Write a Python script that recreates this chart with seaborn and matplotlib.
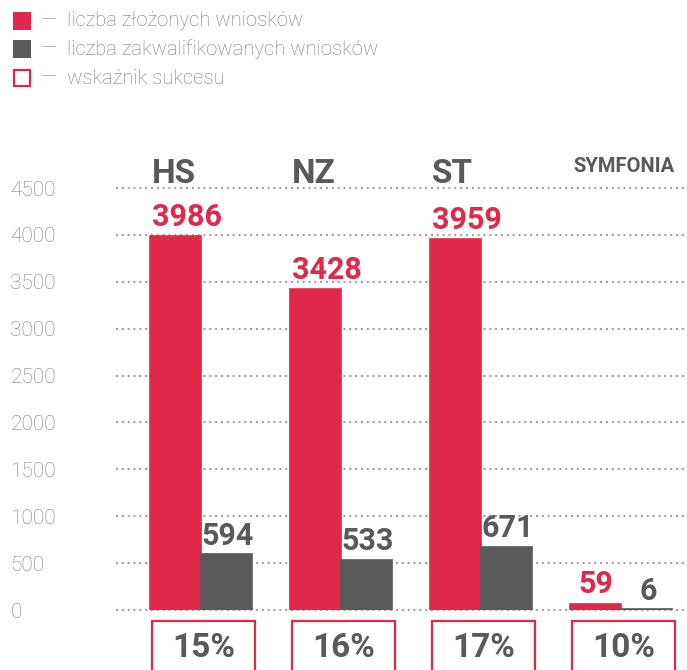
import matplotlib
matplotlib.use("Agg")
import matplotlib.pyplot as plt
from matplotlib.patches import Rectangle
import seaborn as sns
import pandas as pd

categories = ["HS", "NZ", "ST", "SYMFONIA"]
submitted = [3986, 3428, 3959, 59]
qualified = [594, 533, 671, 6]
success = ["15%", "16%", "17%", "10%"]
series_names = ["liczba złożonych wniosków", "liczba zakwalifikowanych wniosków"]
legend_labels = ["liczba złożonych wniosków", "liczba zakwalifikowanych wniosków", "wskaźnik sukcesu"]
yticks = [0, 500, 1000, 1500, 2000, 2500, 3000, 3500, 4000, 4500]

RED = "#E0294A"
GRAY = "#58595B"
TICK = "#7D7D7D"
GRID = "#9A9A9A"

sns.set_theme(style="white")
plt.rcParams["font.family"] = ["Roboto", "DejaVu Sans"]

df = pd.DataFrame({
    "cat": categories * 2,
    "series": [series_names[0]] * len(categories) + [series_names[1]] * len(categories),
    "value": submitted + qualified,
})

W, H = 687, 670
fig = plt.figure(figsize=(W / 100, H / 100), dpi=100)
ax = fig.add_axes([116 / W, 60 / H, 571 / W, 422 / H])

sns.barplot(data=df, x="cat", y="value", hue="series", order=categories,
            hue_order=series_names, palette=[RED, GRAY], width=0.73,
            dodge=True, legend=False, ax=ax, saturation=1, zorder=2,
            edgecolor="none", linewidth=0)

ax.set_ylim(0, 4500)
ax.set_xlim(-0.607, 3.471)
for s in ax.spines.values():
    s.set_visible(False)
ax.set_xlabel("")
ax.set_ylabel("")
ax.set_xticks([])
ax.set_yticks(yticks)
ax.set_yticklabels([str(t) for t in yticks])
ax.tick_params(axis="y", length=0, pad=76, labelsize=15, labelcolor=TICK)
for lab in ax.get_yticklabels():
    lab.set_horizontalalignment("left")
    lab.set_fontweight("light")

for t in yticks:
    ax.axhline(t, color=GRID, linestyle=(0, (1, 2)), linewidth=1.4, zorder=0.5, clip_on=False)

red_bars = ax.containers[0]
gray_bars = ax.containers[1]
for cont in (red_bars, gray_bars):
    for bar in cont:
        bar.set_edgecolor(bar.get_facecolor())
        bar.set_linewidth(1.2)

for bar, v in zip(red_bars, submitted):
    if len(str(v)) >= 4:
        ax.annotate(str(v), xy=(bar.get_x(), bar.get_height()), xytext=(1.5, 7),
                    textcoords="offset points", ha="left", va="baseline",
                    fontsize=22, fontweight="bold", color=RED)
    else:
        ax.annotate(str(v), xy=(bar.get_x() + bar.get_width() / 2, bar.get_height()),
                    xytext=(0, 8.5), textcoords="offset points", ha="center", va="baseline",
                    fontsize=22, fontweight="bold", color=RED)

for bar, v in zip(gray_bars, qualified):
    ax.annotate(str(v), xy=(bar.get_x() + bar.get_width() / 2, bar.get_height()),
                xytext=(1, 7), textcoords="offset points", ha="center", va="baseline",
                fontsize=22, fontweight="bold", color=GRAY)

for rb, gb, cat in zip(red_bars, gray_bars, categories):
    if len(cat) > 2:
        ax.annotate(cat, xy=(gb.get_x() + gb.get_width(), 4500), xytext=(1.5, 11.5),
                    textcoords="offset points", ha="right", va="baseline",
                    fontsize=14.5, fontweight="bold", color=GRAY, annotation_clip=False)
    else:
        ax.annotate(cat, xy=(rb.get_x(), 4500), xytext=(1.5, 3.6),
                    textcoords="offset points", ha="left", va="baseline",
                    fontsize=24, fontweight="bold", color=GRAY, annotation_clip=False)

for i, pct in enumerate(success):
    ax.add_patch(Rectangle((i - 0.35, -118), 0.737, -700, fill=True, facecolor="white",
                           edgecolor=RED, linewidth=1.6, clip_on=False, zorder=3))
    ax.text(i + 0.018, -410, pct, ha="center", va="center", fontsize=24,
            fontweight="bold", color=GRAY, clip_on=False, zorder=4)

# legend
centers = [21, 49, 78]
for k, (yc, lab) in enumerate(zip(centers, legend_labels)):
    sz = 18
    x0 = 13
    if k < 2:
        fig.patches.append(Rectangle((x0 / W, 1 - (yc + sz / 2) / H), sz / W, sz / H,
                                     transform=fig.transFigure, facecolor=[RED, GRAY][k],
                                     edgecolor="none"))
    else:
        fig.patches.append(Rectangle(((x0 + 1) / W, 1 - (yc + sz / 2 - 1) / H), (sz - 2) / W, (sz - 2) / H,
                                     transform=fig.transFigure, facecolor="white",
                                     edgecolor=RED, linewidth=1.6))
    fig.text(41 / W, 1 - yc / H, "—", ha="left", va="center", fontsize=15,
             fontweight="light", color="#7A7A7A")
    fig.text(67 / W, 1 - yc / H, lab, ha="left", va="center", fontsize=14.6,
             fontweight="light", color="#7A7A7A")

fig.savefig("out.png", dpi=100)
